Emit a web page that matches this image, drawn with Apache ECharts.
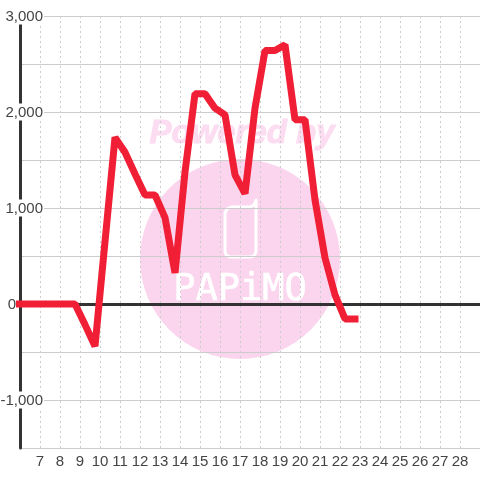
<!DOCTYPE html>
<html>
<head>
<meta charset="utf-8">
<style>
html, body { margin: 0; padding: 0; background: #fff; }
#chart { width: 480px; height: 480px; }
</style>
<script src="https://cdn.jsdelivr.net/npm/echarts@6/dist/echarts.min.js"></script>
</head>
<body>
<div id="chart"></div>
<script>
// half hourly readings
var hours = [5.75, 6.25, 6.75, 7.25, 7.75, 8.25, 8.75, 9.25, 9.75, 10.25, 10.75, 11.25, 11.75, 12.25, 12.75, 13.25, 13.75, 14.25,
    14.75, 15.25, 15.75, 16.25, 16.75, 17.25, 17.75, 18.25, 18.75, 19.25, 19.75, 20.25, 20.75, 21.25, 21.75, 22.25, 22.75];
var values = [0, 0, 0, 0, 0, 0, 0, -215, -440, 650, 1735, 1580, 1355, 1135, 1135, 900, 325, 1375,
    2190, 2190, 2040, 1970, 1345, 1150, 2040, 2640, 2640, 2700, 1920, 1920, 1085, 480, 95, -155, -155];
var lineData = hours.map(function (h, i) { return [h, values[i]]; });

var textColor = '#444';
var gridColor = '#ccc';
var axisColor = '#333';
var fontName = '"Liberation Sans", Arial, sans-serif';

var myChart = echarts.init(document.getElementById('chart'), null, { renderer: 'canvas' });
myChart.setOption({
    animation: false,
    backgroundColor: '#fff',
    grid: { left: 20, right: 0, top: 16, bottom: 32, outerBoundsMode: 'none' },
    // watermark, sits behind the grid lines
    graphic: [
        { type: 'circle', z: -10, shape: { cx: 240, cy: 259, r: 100 }, style: { fill: '#fbd5ee' } },
        {
            type: 'text', z: -10, x: 242, y: 134,
            style: {
                text: 'Powered by', fill: '#fcdcf1', stroke: '#fcdcf1', lineWidth: 1, font: 'italic bold 33px "Liberation Sans"',
                align: 'center', verticalAlign: 'middle'
            }
        },
        {
            type: 'polyline', z: -9,
            shape: { points: [[256, 200], [256, 252], [254, 256], [250, 257], [230, 257], [226, 255], [225, 251], [225, 213], [227, 209], [231, 207], [250, 207], [254, 205], [256, 200]] },
            style: { fill: null, stroke: '#fff', lineWidth: 3, lineJoin: 'round', lineCap: 'round' }
        },
        {
            type: 'text', z: -9, x: 240, y: 290,
            style: {
                text: 'PAPiMO', fill: '#fff', stroke: '#fff', lineWidth: 0.6, font: '37px "DejaVu Sans Mono"',
                align: 'center', verticalAlign: 'middle'
            }
        }
    ],
    xAxis: [
        {
            type: 'value', min: 6, max: 29, interval: 1, position: 'bottom',
            axisLine: { show: false, onZero: false }, axisTick: { show: false },
            axisLabel: {
                color: textColor, fontFamily: fontName, fontSize: 15, margin: 6,
                formatter: function (v) { return v === 6 || v === 29 ? '' : String(v); }
            },
            splitLine: { show: true, lineStyle: { color: gridColor, width: 1, type: [2, 3] } }
        },
        {
            // zero line only
            type: 'value', min: 6, max: 29, interval: 1, position: 'bottom',
            axisLine: { show: true, onZero: true, lineStyle: { color: axisColor, width: 3 } },
            axisTick: { show: false }, axisLabel: { show: false }, splitLine: { show: false }
        }
    ],
    yAxis: {
        type: 'value', min: -1500, max: 3000, interval: 500,
        axisLine: { show: true, onZero: false, lineStyle: { color: axisColor, width: 3 } },
        axisTick: { show: false },
        axisLabel: {
            color: textColor, fontFamily: fontName, fontSize: 15, margin: -24,
            formatter: function (v) {
                if (v === 0) return '{zero|0}';
                if (v % 1000 !== 0) return '';
                return '{num|' + echarts.format.addCommas(v) + '}';
            },
            rich: {
                num: { color: textColor, fontFamily: fontName, fontSize: 15, backgroundColor: '#fff', padding: [2, 1, 0, 0] },
                // 0 sits left of the axis line
                zero: { color: textColor, fontFamily: fontName, fontSize: 15, padding: [2, 28, 0, 0] }
            }
        },
        splitLine: { show: true, lineStyle: { color: gridColor, width: 1 } }
    },
    series: [{
        type: 'line',
        data: lineData,
        symbol: 'none',
        z: 5,
        lineStyle: { color: '#f01f35', width: 7, cap: 'square', join: 'bevel' }
    }]
});
</script>
</body>
</html>
